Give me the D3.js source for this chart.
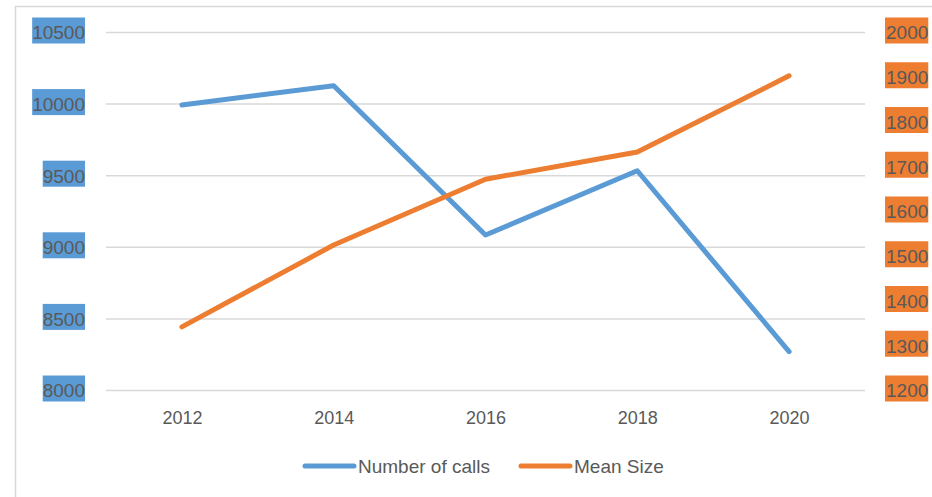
<!DOCTYPE html>
<html>
<head>
<meta charset="utf-8">
<script src="https://cdn.jsdelivr.net/npm/d3@7"></script>
<style>
  html, body { margin: 0; padding: 0; background: #fff; }
  svg { display: block; }
  text { font-family: "Liberation Sans", Arial, sans-serif; fill: #595959; }
</style>
</head>
<body>
<svg id="chart" width="932" height="497"></svg>
<script>
const years = ["2012", "2014", "2016", "2018", "2020"];
const numberOfCalls = [9990, 10125, 9082, 9531, 8268];
const meanSize = [1341, 1524, 1671, 1732, 1902];
const leftTicks = [8000, 8500, 9000, 9500, 10000, 10500];
const rightTicks = [1200, 1300, 1400, 1500, 1600, 1700, 1800, 1900, 2000];
const seriesNames = ["Number of calls", "Mean Size"];
const colors = ["#5B9BD5", "#ED7D31"];

const svg = d3.select("#chart");
const plot = { left: 106, right: 865, top: 32, bottom: 390 };

// outer frame
svg.append("path")
  .attr("d", `M15.5,497 V6.5 H932`)
  .attr("fill", "none").attr("stroke", "#D9D9D9").attr("stroke-width", 1.5);

const x = d3.scalePoint().domain(years).range([plot.left, plot.right]).padding(0.5);
const yL = d3.scaleLinear().domain([8000, 10500]).range([plot.bottom, plot.top]);
const yR = d3.scaleLinear().domain([1200, 2000]).range([plot.bottom, plot.top]);

// left axis + gridlines
const gL = svg.append("g").attr("transform", `translate(${plot.left},0)`)
  .call(d3.axisLeft(yL).tickValues(leftTicks).tickFormat(d3.format("d"))
    .tickSize(-(plot.right - plot.left)).tickPadding(21));
gL.select(".domain").remove();
gL.selectAll(".tick line").attr("stroke", "#D9D9D9").attr("stroke-width", 1.5);
gL.selectAll(".tick text").attr("font-size", 19).attr("fill", "#595959").attr("dy", "0.36em");
gL.selectAll(".tick").each(function () {
  const t = d3.select(this).select("text");
  const bb = t.node().getBBox();
  d3.select(this).insert("rect", "text")
    .attr("x", bb.x).attr("width", bb.width)
    .attr("y", -15).attr("height", 26)
    .attr("fill", colors[0]);
});

// right axis
const gR = svg.append("g").attr("transform", `translate(${plot.right},0)`)
  .call(d3.axisRight(yR).tickValues(rightTicks).tickFormat(d3.format("d"))
    .tickSize(0).tickPadding(21));
gR.select(".domain").remove();
gR.selectAll(".tick text").attr("font-size", 19).attr("fill", "#595959").attr("dy", "0.36em");
gR.selectAll(".tick").each(function () {
  const t = d3.select(this).select("text");
  const bb = t.node().getBBox();
  d3.select(this).insert("rect", "text")
    .attr("x", bb.x - 1).attr("width", bb.width + 1)
    .attr("y", -15).attr("height", 26)
    .attr("fill", colors[1]);
});

// x axis
const gX = svg.append("g").attr("transform", `translate(0,${plot.bottom})`)
  .call(d3.axisBottom(x).tickSize(0).tickPadding(0));
gX.select(".domain").remove();
gX.selectAll(".tick text").attr("font-size", 18).attr("fill", "#595959")
  .attr("y", 28).attr("dy", "0.36em");

// lines
const series = [
  { values: numberOfCalls, y: yL, color: colors[0] },
  { values: meanSize, y: yR, color: colors[1] }
];
series.forEach(s => {
  const line = d3.line().x((d, i) => x(years[i])).y(d => s.y(d));
  svg.append("path").datum(s.values)
    .attr("d", line)
    .attr("fill", "none")
    .attr("stroke", s.color)
    .attr("stroke-width", 5)
    .attr("stroke-linecap", "round")
    .attr("stroke-linejoin", "round");
});

// legend
const legendItems = [
  { name: seriesNames[0], color: colors[0], x0: 305 },
  { name: seriesNames[1], color: colors[1], x0: 521 }
];
const lg = svg.append("g");
legendItems.forEach(it => {
  lg.append("line").attr("x1", it.x0).attr("x2", it.x0 + 49)
    .attr("y1", 466).attr("y2", 466)
    .attr("stroke", it.color).attr("stroke-width", 5).attr("stroke-linecap", "round");
  lg.append("text").attr("x", it.x0 + 53).attr("y", 466).attr("dy", "0.36em")
    .attr("font-size", 19).attr("fill", "#595959").text(it.name);
});
</script>
</body>
</html>
